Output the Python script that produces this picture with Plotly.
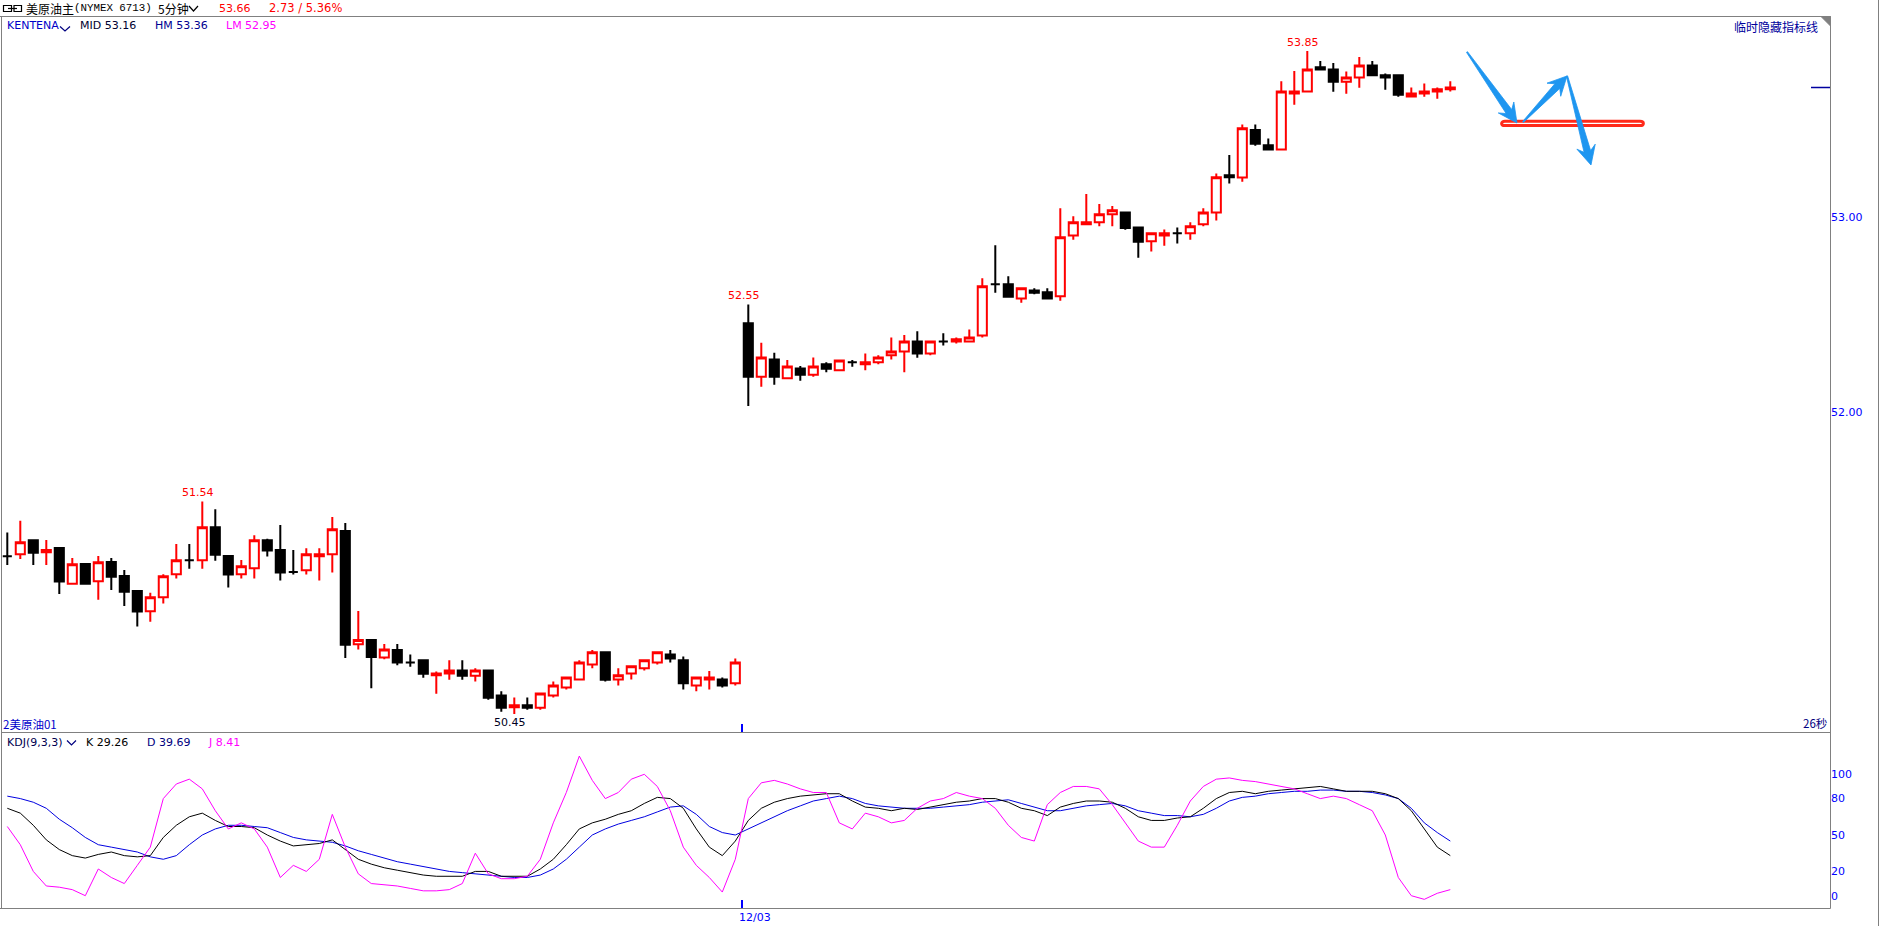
import math
import plotly.graph_objects as go

W, H = 1883, 926

# ---------------- data (5-minute bars) ----------------
opens = [51.259, 51.269, 51.341, 51.279, 51.301, 51.118, 51.219, 51.130, 51.229, 51.158,
         51.081, 50.977, 51.048, 51.166, 51.238, 51.238, 51.407, 51.260, 51.166, 51.197,
         51.341, 51.291, 51.178, 51.187, 51.259, 51.269, 51.388, 50.807, 50.829, 50.740,
         50.778, 50.714, 50.725, 50.648, 50.658, 50.673, 50.646, 50.673, 50.545, 50.484,
         50.494, 50.482, 50.545, 50.586, 50.627, 50.704, 50.766, 50.627, 50.658, 50.684,
         50.714, 50.755, 50.725, 50.596, 50.627, 50.627, 50.607,
         52.453, 52.179, 52.268, 52.171, 52.222, 52.190, 52.243, 52.212, 52.253, 52.243,
         52.253, 52.289, 52.309, 52.360, 52.299, 52.360, 52.360, 52.360, 52.391, 52.653,
         52.653, 52.581, 52.622, 52.612, 52.592, 52.903, 52.961, 52.971, 53.012, 53.022,
         52.945, 52.874, 52.904, 52.915, 52.915, 52.961, 53.022, 53.212, 53.201, 53.444,
         53.366, 53.345, 53.632, 53.642, 53.766, 53.755, 53.692, 53.714, 53.776, 53.725,
         53.725, 53.617, 53.632, 53.642, 53.653]
highs = [51.380, 51.441, 51.342, 51.342, 51.301, 51.250, 51.219, 51.260, 51.250, 51.188,
         51.081, 51.071, 51.166, 51.322, 51.322, 51.54, 51.500, 51.260, 51.240, 51.366,
         51.349, 51.419, 51.291, 51.300, 51.300, 51.460, 51.429, 50.978, 50.835, 50.809,
         50.809, 50.755, 50.725, 50.668, 50.726, 50.726, 50.684, 50.673, 50.567, 50.535,
         50.535, 50.555, 50.617, 50.637, 50.725, 50.778, 50.766, 50.684, 50.694, 50.725,
         50.766, 50.778, 50.745, 50.637, 50.670, 50.637, 50.735,
         52.55, 52.354, 52.302, 52.265, 52.234, 52.278, 52.254, 52.268, 52.265, 52.299,
         52.289, 52.381, 52.393, 52.413, 52.360, 52.402, 52.381, 52.422, 52.684, 52.853,
         52.694, 52.633, 52.633, 52.633, 53.043, 53.002, 53.116, 53.065, 53.055, 53.022,
         52.945, 52.915, 52.935, 52.945, 52.971, 53.043, 53.222, 53.316, 53.473, 53.473,
         53.401, 53.695, 53.747, 53.85, 53.798, 53.788, 53.745, 53.819, 53.798, 53.735,
         53.725, 53.663, 53.683, 53.663, 53.694]
lows = [51.214, 51.245, 51.214, 51.214, 51.065, 51.118, 51.118, 51.036, 51.086, 51.004,
        50.898, 50.923, 51.016, 51.144, 51.195, 51.195, 51.236, 51.098, 51.144, 51.144,
        51.257, 51.134, 51.165, 51.165, 51.134, 51.175, 50.737, 50.780, 50.582, 50.730,
        50.700, 50.692, 50.636, 50.554, 50.625, 50.625, 50.617, 50.523, 50.461, 50.45,
        50.472, 50.472, 50.535, 50.576, 50.627, 50.684, 50.617, 50.596, 50.627, 50.673,
        50.704, 50.714, 50.576, 50.566, 50.576, 50.586, 50.596,
        52.029, 52.128, 52.138, 52.171, 52.159, 52.179, 52.202, 52.208, 52.231, 52.212,
        52.243, 52.268, 52.202, 52.277, 52.289, 52.340, 52.350, 52.360, 52.381, 52.610,
        52.590, 52.559, 52.602, 52.580, 52.569, 52.882, 52.961, 52.951, 52.951, 52.933,
        52.790, 52.821, 52.851, 52.862, 52.882, 52.951, 52.980, 53.170, 53.179, 53.364,
        53.345, 53.345, 53.574, 53.642, 53.755, 53.641, 53.631, 53.661, 53.725, 53.651,
        53.615, 53.617, 53.615, 53.605, 53.642]
closes = [51.259, 51.330, 51.277, 51.291, 51.129, 51.218, 51.118, 51.228, 51.154, 51.077,
          50.975, 51.048, 51.156, 51.238, 51.238, 51.407, 51.267, 51.165, 51.207, 51.341,
          51.288, 51.175, 51.178, 51.269, 51.269, 51.397, 50.805, 50.829, 50.742, 50.780,
          50.714, 50.714, 50.656, 50.658, 50.673, 50.646, 50.673, 50.533, 50.482, 50.494,
          50.482, 50.555, 50.596, 50.637, 50.714, 50.766, 50.625, 50.648, 50.694, 50.725,
          50.766, 50.735, 50.607, 50.637, 50.637, 50.596, 50.714,
          52.179, 52.278, 52.179, 52.232, 52.190, 52.232, 52.220, 52.263, 52.253, 52.253,
          52.278, 52.309, 52.360, 52.299, 52.360, 52.360, 52.371, 52.381, 52.643, 52.653,
          52.590, 52.633, 52.610, 52.580, 52.894, 52.971, 52.971, 53.012, 53.033, 52.942,
          52.872, 52.915, 52.915, 52.915, 52.951, 53.022, 53.202, 53.202, 53.453, 53.374,
          53.345, 53.642, 53.642, 53.755, 53.755, 53.692, 53.714, 53.776, 53.725, 53.714,
          53.625, 53.632, 53.642, 53.653, 53.663]

k_vals = [72, 68, 58, 46, 38, 33, 31, 34, 36, 33, 32, 33, 48, 58, 65, 68, 62, 57, 57, 56,
          50, 45, 41, 42, 43, 46, 38, 30, 26, 23, 21, 19, 17, 16, 16, 16, 20, 20, 16, 16,
          16, 22, 30, 42, 55, 60, 63, 67, 70, 76, 81, 80, 72, 55, 40, 33, 45,
          62, 72, 77, 80, 82, 83, 84, 84, 78, 73, 72, 70, 72, 71, 73, 75, 77, 78, 80, 80,
          77, 72, 70, 66, 73, 76, 78, 78, 77, 72, 65, 62, 62, 64, 65, 72, 80, 85, 86, 84,
          86, 87, 88, 89, 90, 88, 86, 86, 86, 84, 80, 70, 55, 40, 33, 29.26]
d_vals = [82, 80, 77, 72, 63, 56, 48, 42, 40, 38, 36, 32, 30, 33, 42, 50, 55, 58, 58, 57,
          56, 52, 48, 46, 45, 44, 41, 37, 34, 31, 28, 26, 24, 22, 20, 19, 18, 17, 16, 15,
          15, 17, 22, 30, 40, 50, 55, 59, 62, 65, 69, 73, 74, 67, 57, 52, 50,
          55, 60, 65, 70, 74, 78, 80, 82, 80, 76, 74, 73, 72, 72, 72, 73, 74, 75, 77, 78,
          79, 76, 73, 70, 70, 72, 74, 75, 76, 74, 70, 68, 66, 66, 65, 67, 72, 78, 81, 82,
          84, 85, 86, 86, 87, 87, 86, 86, 85, 83, 80, 72, 60, 52, 45, 39.69]
j_vals = [57, 42, 20, 8, 7, 5, 0, 22, 15, 10, 25, 40, 80, 92, 96, 88, 70, 55, 60, 55,
          40, 15, 25, 20, 30, 67, 40, 18, 10, 9, 8, 6, 4, 4, 5, 10, 35, 18, 14, 14,
          16, 30, 60, 85, 115, 95, 80, 85, 96, 100, 90, 70, 40, 25, 15, 3, 30,
          80, 93, 95, 92, 88, 85, 85, 60, 55, 68, 65, 60, 62, 72, 78, 80, 85, 82, 80, 72,
          58, 48, 45, 75, 85, 90, 90, 88, 75, 60, 45, 40, 40, 58, 78, 90, 96, 97, 95, 94,
          92, 90, 88, 84, 80, 82, 80, 75, 70, 50, 15, 0, -3, 2, 5, 8.41]

price_ticks = [52.0, 53.0]
price_tick_text = ["52.00", "53.00"]
kdj_ticks = [0, 20, 50, 80, 100]
kdj_tick_text = ["0", "20", "50", "80", "100"]
date_tick_pos = [56.5]
date_tick_text = ["12/03"]
high_label_idx = [15, 57, 100]
low_label_idx = [39]

# ---------------- helpers (pixel -> paper) ----------------
def px(x):
    return x / W


def py(y):
    return 1 - y / H


def txt(x, y, s, color, size=11, family="DejaVu Sans", xanchor="left"):
    return dict(x=px(x), y=py(y), xref="paper", yref="paper", text=s, showarrow=False,
                xanchor=xanchor, yanchor="middle", borderpad=0,
                font=dict(family=family, size=size, color=color))


def line(x0, y0, x1, y1, color="#808080", width=1):
    return dict(type="line", xref="paper", yref="paper", x0=px(x0), y0=py(y0),
                x1=px(x1), y1=py(y1), line=dict(color=color, width=width))


def path(points, fill=None, color="#000000", width=1, close=True):
    d = "M " + " L ".join(f"{px(a):.6f},{py(b):.6f}" for a, b in points)
    if close:
        d += " Z"
    s = dict(type="path", xref="paper", yref="paper", path=d,
             line=dict(color=color, width=width))
    if fill:
        s["fillcolor"] = fill
    return s


def arrow(tail, tip, w0=0.6, w1=3.4, hl=19, hw=9.5, notch=5):
    (x0, y0), (x1, y1) = tail, tip
    dx, dy = x1 - x0, y1 - y0
    L = math.hypot(dx, dy)
    ux, uy = dx / L, dy / L
    nx, ny = -uy, ux
    bx, by = x1 - ux * (hl - notch), y1 - uy * (hl - notch)
    hx, hy = x1 - ux * hl, y1 - uy * hl
    pts = [(x0 + nx * w0, y0 + ny * w0), (bx + nx * w1, by + ny * w1),
           (hx + nx * hw, hy + ny * hw), (x1, y1), (hx - nx * hw, hy - ny * hw),
           (bx - nx * w1, by - ny * w1), (x0 - nx * w0, y0 - ny * w0)]
    return path(pts, fill="#1E96F0", color="#1E96F0", width=0.8)


# ---------------- figure ----------------
n = len(opens)
idx = list(range(n))
up_x = [i for i in idx if closes[i] > opens[i]]
dn_x = [i for i in idx if not closes[i] > opens[i]]

fig = go.Figure()
for xs, col, fill in [(up_x, "#FF0000", "#FFFFFF"), (dn_x, "#000000", "#000000")]:
    fig.add_trace(go.Candlestick(
        x=xs,
        open=[opens[i] for i in xs], high=[highs[i] for i in xs],
        low=[lows[i] for i in xs], close=[closes[i] for i in xs],
        increasing=dict(line=dict(color=col, width=2), fillcolor=fill),
        decreasing=dict(line=dict(color=col, width=2), fillcolor=fill),
        whiskerwidth=0, xaxis="x", yaxis="y", showlegend=False, hoverinfo="skip"))

for vals, col in [(d_vals, "#0000E0"), (k_vals, "#000000"), (j_vals, "#FF00FF")]:
    fig.add_trace(go.Scatter(x=idx, y=vals, mode="lines", line=dict(color=col, width=1),
                             xaxis="x2", yaxis="y2", showlegend=False, hoverinfo="skip"))

x_lo = -5.3 / 13
x_hi = x_lo + 1828 / 13
p_lo = 53 - (732 - 216.7) / 195
p_hi = 53 + (216.7 - 16.5) / 195
k_lo = -(908.5 - 895.7) / 1.214
k_hi = (895.7 - 732) / 1.214

axis_common = dict(showgrid=False, zeroline=False, showline=False, fixedrange=True)
fig.update_layout(
    width=W, height=H, autosize=False, margin=dict(l=0, r=0, t=0, b=0, pad=0),
    paper_bgcolor="#FFFFFF", plot_bgcolor="#FFFFFF", showlegend=False,
    boxgap=0.30, boxgroupgap=0,
    xaxis=dict(domain=[px(2), px(1830)], range=[x_lo, x_hi], anchor="y",
               rangeslider=dict(visible=False), tickvals=date_tick_pos,
               ticktext=date_tick_text, ticks="inside", ticklen=8, tickwidth=1.5,
               tickcolor="#0000FF", showticklabels=False, **axis_common),
    yaxis=dict(domain=[1 - 732 / H, 1 - 16.5 / H], range=[p_lo, p_hi], anchor="x",
               side="right", tickvals=price_ticks, ticktext=price_tick_text, ticks="",
               tickfont=dict(family="DejaVu Sans", size=11, color="#0000FF"),
               **axis_common),
    xaxis2=dict(domain=[px(2), px(1830)], range=[x_lo, x_hi], anchor="y2",
                tickvals=date_tick_pos, ticktext=date_tick_text, ticks="inside",
                ticklen=9, tickwidth=1.5, tickcolor="#0000FF", ticklabelshift=13,
                tickfont=dict(family="DejaVu Sans", size=11, color="#0000FF"),
                **axis_common),
    yaxis2=dict(domain=[1 - 908.5 / H, 1 - 732 / H], range=[k_lo, k_hi], anchor="x2",
                side="right", tickvals=kdj_ticks, ticktext=kdj_tick_text, ticks="",
                tickfont=dict(family="DejaVu Sans", size=11, color="#0000FF"),
                **axis_common),
)

shapes = [
    line(0, 16.5, 1830.5, 16.5),
    line(1.5, 16.5, 1.5, 908.5),
    line(1.5, 732.5, 1830.5, 732.5),
    line(0, 908.5, 1830.5, 908.5),
    line(1830.5, 16.5, 1830.5, 908.5),
    line(1878.5, 0, 1878.5, 926),
    path([(1821, 16.5), (1830.5, 16.5), (1830.5, 26)], fill="#808080", color="#808080"),
    # link icon in the title bar
    dict(type="rect", xref="paper", yref="paper", x0=px(3.5), x1=px(11.5), y0=py(5.5),
         y1=py(11.5), line=dict(color="#000000", width=1.2)),
    dict(type="rect", xref="paper", yref="paper", x0=px(14), x1=px(21.5), y0=py(5.5),
         y1=py(11.5), line=dict(color="#000000", width=1.2)),
    line(8, 8.5, 17, 8.5, color="#000000", width=1.2),
    # drop-down chevrons
    path([(189, 6), (193.5, 11), (198, 6)], color="#000000", width=1.2, close=False),
    path([(60, 26.5), (65, 31), (70, 26.5)], color="#000080", width=1.2, close=False),
    path([(67, 740.5), (71.5, 745), (76, 740.5)], color="#000080", width=1.2, close=False),
    # current price marker
    dict(type="line", xref="paper", yref="y", x0=px(1811), x1=px(1830), y0=closes[-1],
         y1=closes[-1], line=dict(color="#0000A0", width=1.5)),
    # hand-drawn red bar and blue arrows
    dict(type="path", xref="paper", yref="paper",
         path=(f"M {px(1505):.6f},{py(121.2):.6f} L {px(1640):.6f},{py(121.2):.6f} "
               f"C {px(1644.5):.6f},{py(121.2):.6f} {px(1644.5):.6f},{py(125.6):.6f} {px(1640):.6f},{py(125.6):.6f} "
               f"L {px(1505):.6f},{py(125.6):.6f} "
               f"C {px(1500.5):.6f},{py(125.6):.6f} {px(1500.5):.6f},{py(121.2):.6f} {px(1505):.6f},{py(121.2):.6f} Z"),
         fillcolor="#FFFFFF", line=dict(color="#FF2A1A", width=3)),
    arrow((1467, 52), (1517, 123)),
    arrow((1523, 122), (1567, 76)),
    arrow((1567, 76), (1591, 165)),
]

k_last, d_last, j_last = k_vals[-1], d_vals[-1], j_vals[-1]
ann = [
    txt(25, 8.5, "美原油主", "#000000", size=12, family="Noto Sans CJK SC"),
    txt(73, 8.5, "(NYMEX 6713)", "#000000", size=10.8, family="Liberation Mono"),
    txt(157, 8.5, "5分钟", "#000000", size=12, family="Noto Sans CJK SC"),
    txt(218, 8.5, f"{closes[-1]:.2f}", "#FF0000", size=11),
    txt(268, 8.5, "2.73 / 5.36%", "#FF0000", size=11.5),
    txt(6, 25.7, "KENTENA", "#0000C8", size=11),
    txt(79, 25.7, "MID 53.16", "#000030", size=11),
    txt(154, 25.7, "HM 53.36", "#000090", size=11),
    txt(225, 25.7, "LM 52.95", "#FF00FF", size=11),
    txt(1819, 26.5, "临时隐藏指标线", "#00009C", size=12, family="Noto Sans CJK SC",
        xanchor="right"),
    txt(2, 724, "2美原油01", "#0000CC", size=11.5, family="Noto Sans CJK SC"),
    txt(1828, 723, "26秒", "#000080", size=11.5, family="Noto Sans CJK SC", xanchor="right"),
    txt(6, 742, "KDJ(9,3,3)", "#000050", size=11),
    txt(85, 742, f"K {k_last:.2f}", "#000000", size=11),
    txt(146, 742, f"D {d_last:.2f}", "#000080", size=11),
    txt(207, 742, f"J {j_last:.2f}", "#FF00FF", size=11),
]
for i in high_label_idx:
    ann.append(dict(x=i, y=highs[i], xref="x", yref="y", text=f"{highs[i]:.2f}",
                    showarrow=False, xanchor="center", yanchor="bottom", xshift=-4,
                    yshift=1, borderpad=0,
                    font=dict(family="DejaVu Sans", size=11, color="#FF0000")))
for i in low_label_idx:
    ann.append(dict(x=i, y=lows[i], xref="x", yref="y", text=f"{lows[i]:.2f}",
                    showarrow=False, xanchor="center", yanchor="top", xshift=-4,
                    yshift=-1, borderpad=0,
                    font=dict(family="DejaVu Sans", size=11, color="#000020")))

fig.update_layout(shapes=shapes, annotations=ann)
fig.write_html("out.html")
